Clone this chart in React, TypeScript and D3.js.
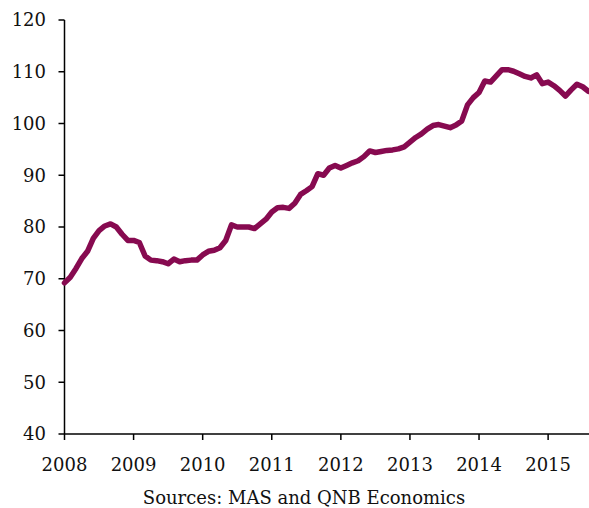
import React from "react";
import * as d3 from "d3";

const startYear = 2008;
// Monthly index values, Jan 2008 onward
const values: number[] = [
  69.2, 70.3, 72.0, 73.9, 75.3, 77.8, 79.3, 80.2, 80.6, 80.0, 78.6, 77.4,
  77.4, 77.0, 74.4, 73.6, 73.5, 73.3, 72.9, 73.8, 73.3, 73.5, 73.6, 73.6,
  74.6, 75.3, 75.5, 76.0, 77.4, 80.4, 80.0, 80.0, 80.0, 79.7, 80.6, 81.5,
  82.9, 83.7, 83.8, 83.6, 84.6, 86.3, 87.0, 87.8, 90.3, 90.0, 91.4, 91.9,
  91.4, 91.9, 92.4, 92.8, 93.6, 94.7, 94.4, 94.6, 94.8, 94.9, 95.1, 95.5,
  96.4, 97.3, 98.0, 98.9, 99.6, 99.8, 99.5, 99.2, 99.7, 100.5, 103.6, 105.0,
  106.0, 108.2, 108.0, 109.2, 110.4, 110.4, 110.1, 109.6, 109.1, 108.8, 109.4, 107.7,
  108.0, 107.3, 106.4, 105.3, 106.5, 107.6, 107.1, 106.2,
];
const yTicks = [40, 50, 60, 70, 80, 90, 100, 110, 120];
const xTicks = [2008, 2009, 2010, 2011, 2012, 2013, 2014, 2015];
const sourceText = "Sources: MAS and QNB Economics";

const W = 589;
const H = 508;
const left = 64.5;
const right = 589;
const top = 20;
const bottom = 434;
const font = "'DejaVu Serif', serif";

export default function App() {
  const x = d3.scaleLinear().domain([startYear, startYear + 91.1 / 12]).range([left, right]);
  const y = d3.scaleLinear().domain([40, 120]).range([bottom, top]);
  const line = d3
    .line<number>()
    .x((_, i) => x(startYear + i / 12))
    .y((d) => y(d))
    .curve(d3.curveLinear);

  return (
    <svg
      width={W}
      height={H}
      style={{ position: "absolute", left: 0, top: 0, background: "#fff" }}
    >
      <rect width={W} height={H} fill="#fff" />
      {/* y axis */}
      <line x1={left} x2={left} y1={top} y2={bottom} stroke="#000" strokeWidth={1.5} />
      {yTicks.map((t) => (
        <g key={t}>
          <line x1={left - 6} x2={left} y1={y(t)} y2={y(t)} stroke="#000" strokeWidth={1.5} />
          <text
            x={46}
            y={y(t)}
            dy="0.36em"
            textAnchor="end"
            fontFamily={font}
            fontSize={18}
            fill="#111"
          >
            {t}
          </text>
        </g>
      ))}
      {/* x axis */}
      <line x1={left} x2={right} y1={bottom} y2={bottom} stroke="#000" strokeWidth={1.5} />
      {xTicks.map((t) => (
        <g key={t}>
          <line x1={x(t)} x2={x(t)} y1={bottom} y2={bottom + 6} stroke="#000" strokeWidth={1.5} />
          <text
            x={x(t)}
            y={471}
            textAnchor="middle"
            fontFamily={font}
            fontSize={18}
            fill="#111"
          >
            {t}
          </text>
        </g>
      ))}
      <path
        d={line(values) || ""}
        fill="none"
        stroke="#870a50"
        strokeWidth={5.5}
        strokeLinejoin="round"
        strokeLinecap="round"
      />
      <text
        x={304}
        y={504}
        textAnchor="middle"
        fontFamily={font}
        fontSize={18}
        fill="#111"
      >
        {sourceText}
      </text>
    </svg>
  );
}
